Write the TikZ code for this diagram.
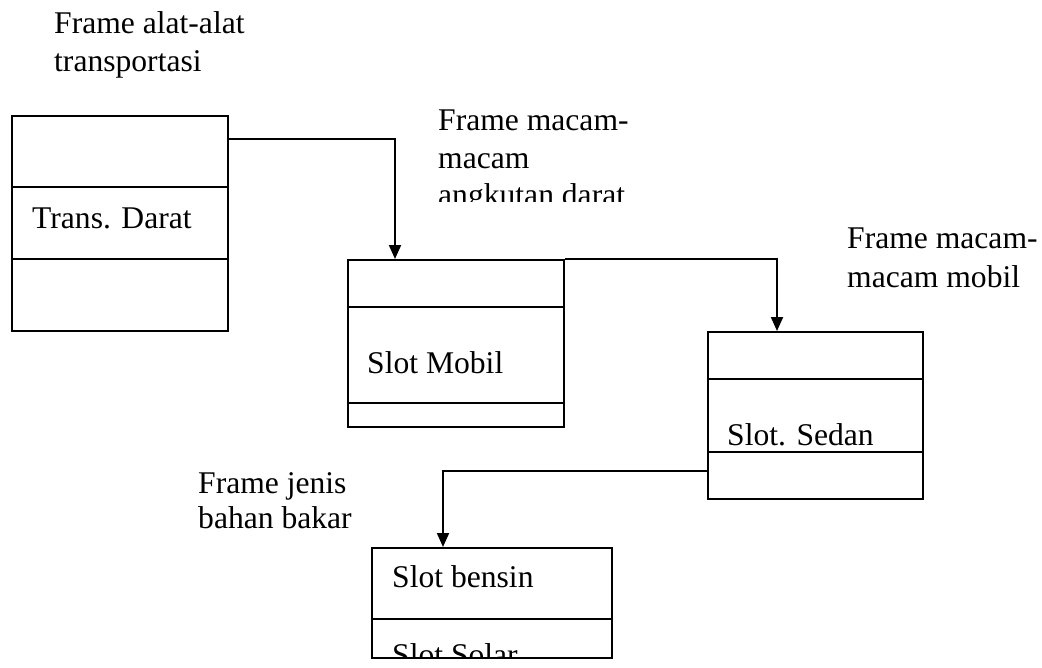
\documentclass[tikz,border=0pt]{standalone}
\usepackage{fontspec}
\setmainfont{Liberation Serif}
\usetikzlibrary{arrows.meta,calc}
\tikzset{
  frame/.style={draw=black, line width=2pt, rectangle, inner sep=0pt, anchor=north west},
  divider/.style={line width=2pt},
  link/.style={line width=2pt, -{Triangle[width=12pt,length=14pt]}},
  lbl/.style={anchor=base west, inner sep=0pt, font=\fontsize{31.6}{38}\selectfont}
}
\begin{document}
\begin{tikzpicture}[x=1pt,y=-1pt]
\useasboundingbox[fill=white] (0,0) rectangle (1042,667);

% boxes
\node[frame, minimum width=216pt, minimum height=215pt] (b1) at (11,115) {};
\node[frame, minimum width=216pt, minimum height=167pt] (b2) at (347,259) {};
\node[frame, minimum width=215pt, minimum height=167pt] (b3) at (707,331) {};
\node[frame, minimum width=240pt, minimum height=110pt] (b4) at (371,547) {};

% dividers
\draw[divider] ($(b1.north west)+(0,72)$) -- ($(b1.north east)+(0,72)$);
\draw[divider] ($(b1.north west)+(0,144)$) -- ($(b1.north east)+(0,144)$);
\draw[divider] ($(b2.north west)+(0,48)$) -- ($(b2.north east)+(0,48)$);
\draw[divider] ($(b2.north west)+(0,144)$) -- ($(b2.north east)+(0,144)$);
\draw[divider] ($(b3.north west)+(0,48)$) -- ($(b3.north east)+(0,48)$);
\draw[divider] ($(b3.north west)+(0,121)$) -- ($(b3.north east)+(0,121)$);
\draw[divider] ($(b4.north west)+(0,72)$) -- ($(b4.north east)+(0,72)$);

% connectors
\draw[link] ($(b1.north east)+(0,24)$) -| ($(b2.north west)+(48,0)$);
\draw[link] (b2.north east) -| ($(b3.north west)+(70,0)$);
\draw[link] ($(b3.north west)+(0,140)$) -| ($(b4.north west)+(72,0)$);

% slot texts
\node[lbl] (t1) at (32,228) {Trans. Darat};
\node[lbl] (t2) at (367,373) {Slot Mobil};
\node[lbl] (t3) at (727,445) {Slot. Sedan};
\node[lbl] (t4) at (392,587) {Slot bensin};
\begin{scope}
  \clip (372,620) rectangle (610,656);
  \node[lbl] (t5) at (392,665) {Slot Solar};
\end{scope}

% frame captions
\node[lbl] (c1a) at (54,33) {Frame alat-alat};
\node[lbl] (c1b) at (54,71) {transportasi};
\node[lbl] (c2a) at (438,130) {Frame macam-};
\node[lbl] (c2b) at (438,168) {macam};
\begin{scope}
  \clip (430,180) rectangle (700,201);
  \node[lbl] (c2c) at (438,205) {angkutan darat};
\end{scope}
\node[lbl] (c3a) at (847,248) {Frame macam-};
\node[lbl] (c3b) at (847,287) {macam mobil};
\node[lbl] (c4a) at (198,493) {Frame jenis};
\node[lbl] (c4b) at (198,528) {bahan bakar};
\end{tikzpicture}
\end{document}
